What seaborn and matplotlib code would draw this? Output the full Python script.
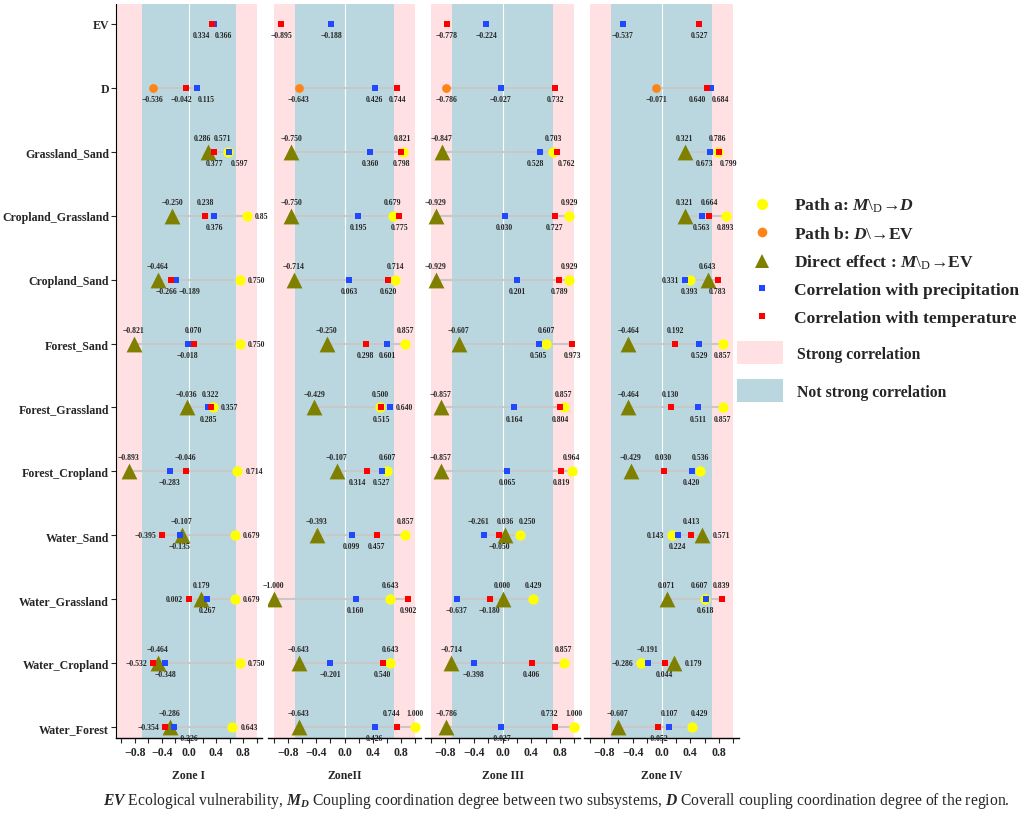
import numpy as np
import pandas as pd
import matplotlib.pyplot as plt
import seaborn as sns
from matplotlib.lines import Line2D
from matplotlib.patches import Patch

nan = np.nan

# rows, top to bottom
rows = ['EV', 'D', 'Grassland_Sand', 'Cropland_Grassland', 'Cropland_Sand', 'Forest_Sand',
        'Forest_Grassland', 'Forest_Cropland', 'Water_Sand', 'Water_Grassland',
        'Water_Cropland', 'Water_Forest']
zones = ['Zone I', 'ZoneII', 'Zone III', 'Zone IV']

# Path b (D -> EV), only in row D
path_b = [-0.536, -0.643, -0.786, -0.071]

# Zone I
path_a_1 = [nan, nan, 0.571, 0.857, 0.750, 0.750, 0.357, 0.714, 0.679, 0.679, 0.750, 0.643]
direct_1 = [nan, nan, 0.286, -0.250, -0.464, -0.821, -0.036, -0.893, -0.107, 0.179, -0.464, -0.286]
precip_1 = [0.366, 0.115, 0.597, 0.376, -0.189, -0.018, 0.285, -0.283, -0.135, 0.267, -0.348, -0.226]
temp_1 = [0.334, -0.042, 0.377, 0.238, -0.266, 0.070, 0.322, -0.046, -0.395, 0.002, -0.532, -0.354]

# Zone II
path_a_2 = [nan, nan, 0.821, 0.679, 0.714, 0.857, 0.500, 0.607, 0.857, 0.643, 0.643, 1.000]
direct_2 = [nan, nan, -0.750, -0.750, -0.714, -0.250, -0.429, -0.107, -0.393, -1.000, -0.643, -0.643]
precip_2 = [-0.188, 0.426, 0.360, 0.195, 0.063, 0.601, 0.640, 0.527, 0.099, 0.160, -0.201, 0.426]
temp_2 = [-0.895, 0.744, 0.798, 0.775, 0.620, 0.298, 0.515, 0.314, 0.457, 0.902, 0.540, 0.744]

# Zone III
path_a_3 = [nan, nan, 0.703, 0.929, 0.929, 0.607, 0.857, 0.964, 0.250, 0.429, 0.857, 1.000]
direct_3 = [nan, nan, -0.847, -0.929, -0.929, -0.607, -0.857, -0.857, 0.036, 0.000, -0.714, -0.786]
precip_3 = [-0.224, -0.027, 0.528, 0.030, 0.201, 0.505, 0.164, 0.065, -0.261, -0.637, -0.398, -0.027]
temp_3 = [-0.778, 0.732, 0.762, 0.727, 0.789, 0.973, 0.804, 0.819, -0.050, -0.180, 0.406, 0.732]

# Zone IV
path_a_4 = [nan, nan, 0.786, 0.893, 0.393, 0.857, 0.857, 0.536, 0.143, 0.607, -0.286, 0.429]
direct_4 = [nan, nan, 0.321, 0.321, 0.643, -0.464, -0.464, -0.429, 0.571, 0.071, 0.179, -0.607]
precip_4 = [-0.537, 0.684, 0.673, 0.563, 0.331, 0.529, 0.511, 0.420, 0.224, 0.618, -0.191, 0.107]
temp_4 = [0.527, 0.640, 0.799, 0.664, 0.783, 0.192, 0.130, 0.030, 0.413, 0.839, 0.044, -0.052]

# label placement per row, order: path_a, path_b, direct, precip, temp
# a above, b below, l left, r right, z above-left, e above-right,
# q / w below-left / below-right, x small below-left, R below starting at marker
lay_1 = ['...wq', '.b.wx', 'z.zwb', 'r.aba', 'r.aRx', 'r.aba', 'r.aba', 'r.aba', 'r.abl', 'r.abl', 'r.abl', 'r.aRl']
lay_2 = ['...bb', '.b.bb', 'a.abb', 'a.abb', 'a.abb', 'a.abb', 'a.arb', 'a.abq', 'a.abb', 'a.abb', 'a.abb', 'a.abz']
lay_3 = ['...bb', '.b.bb', 'a.axw', 'a.abb', 'a.abb', 'a.abb', 'a.abb', 'a.abb', 'e.azb', 'a.abb', 'a.abb', 'a.abz']
lay_4 = ['...bb', '.b.wq', 'a.axw', 'b.aba', 'b.alb', 'b.aba', 'b.aba', 'a.aba', 'l.rba', 'z.aba', 'l.rab', 'e.aab']

zone_data = [
    (path_a_1, direct_1, precip_1, temp_1, lay_1),
    (path_a_2, direct_2, precip_2, temp_2, lay_2),
    (path_a_3, direct_3, precip_3, temp_3, lay_3),
    (path_a_4, direct_4, precip_4, temp_4, lay_4),
]

PINK = '#FFE1E3'
LBLUE = '#BAD7DF'
# name, marker, color, size, zorder, half size (pt)
series = [
    ('path_a', 'o', '#FFFF00', 55, 3, 3.8),
    ('path_b', 'o', '#FF8418', 40, 3, 3.2),
    ('direct', '^', '#7F7F00', 130, 4, 5.5),
    ('precip', 's', '#1F48FF', 24, 5, 2.4),
    ('temp', 's', '#FF0000', 24, 6, 2.4),
]

sns.set_style('white')
plt.rcParams['font.family'] = ['Liberation Serif', 'DejaVu Serif']
plt.rcParams['mathtext.fontset'] = 'custom'
plt.rcParams['mathtext.rm'] = 'Liberation Serif'
plt.rcParams['mathtext.it'] = 'Liberation Serif:italic:bold'
plt.rcParams['mathtext.bf'] = 'Liberation Serif:bold'

W, H = 1024, 820
fig = plt.figure(figsize=(W / 100, H / 100), dpi=100)

lefts = [116, 268, 425, 584]
rights = [262, 421, 580, 739]
top_px, bot_px = 5, 739
XL = 1.08


def fmt(v):
    return f'{v:.3f}'.replace('-', '\u2212')


def placement(code, half):
    if code == 'a':
        return (0, 10), 'center'
    if code == 'b':
        return (0, -8), 'center'
    if code == 'r':
        return (half + 2, 0), 'left'
    if code == 'l':
        return (-half - 2, 0), 'right'
    if code == 'z':
        return (-4, 10), 'center'
    if code == 'e':
        return (5, 10), 'center'
    if code == 'w':
        return (7, -8), 'center'
    if code == 'q':
        return (-7, -8), 'center'
    if code == 'x':
        return (-3.5, -8), 'center'
    if code == 'R':
        return (2, -8), 'left'
    return (0, -8), 'center'


for k, (pa, di, pr, te, lay) in enumerate(zone_data):
    ax = fig.add_axes([lefts[k] / W, 1 - bot_px / H, (rights[k] - lefts[k]) / W, (bot_px - top_px) / H])
    df = pd.DataFrame({'row': np.arange(len(rows)), 'path_a': pa, 'direct': di,
                       'precip': pr, 'temp': te})
    df['path_b'] = nan
    df.loc[1, 'path_b'] = path_b[k]

    ax.set_xlim(-XL, XL)
    ax.set_ylim(11.17, -0.31)
    ax.axvspan(-XL if k == 0 else -1.0, -0.7, color=PINK, lw=0, zorder=0)
    ax.axvspan(0.7, 1.0, color=PINK, lw=0, zorder=0)
    ax.axvspan(-0.7, 0.7, color=LBLUE, lw=0, zorder=0)
    ax.axvline(0, color='white', lw=0.8, zorder=1)

    # connecting lines for rows with path values
    vals = df[['path_a', 'path_b', 'direct', 'precip', 'temp']]
    for i in range(len(rows)):
        if df.loc[i, ['path_a', 'path_b']].notna().any():
            ax.hlines(i, vals.loc[i].min(), vals.loc[i].max(), color='#C8C8C8', lw=1.5, zorder=2)

    for j, (name, mk, col, s, z, half) in enumerate(series):
        sub = df[['row', name]].dropna()
        sns.scatterplot(data=sub, x=name, y='row', marker=mk, color=col, s=s,
                        linewidth=0, zorder=z, ax=ax, legend=False)
        for _, r in sub.iterrows():
            off, ha = placement(lay[int(r['row'])][j], half)
            ax.annotate(fmt(r[name]), (r[name], r['row']), xytext=off, textcoords='offset points',
                        ha=ha, va='center', fontsize=5.6, fontweight='bold', zorder=7)

    for sp in ['top', 'right']:
        ax.spines[sp].set_visible(False)
    ax.spines['bottom'].set_color('black')
    ax.spines['bottom'].set_linewidth(1.0)
    ax.set_xticks([-0.8, -0.4, 0.0, 0.4, 0.8])
    ax.set_xticklabels(['\u22120.8', '\u22120.4', '0.0', '0.4', '0.8'], fontsize=8.5, fontweight='bold')
    ax.set_xticks([-1.0, -0.6, -0.2, 0.2, 0.6, 1.0], minor=True)
    ax.tick_params(axis='x', which='both', direction='out', bottom=True, length=3.5, width=0.8, pad=2)
    ax.set_xlabel(zones[k], fontsize=8.5, fontweight='bold', labelpad=8)
    ax.set_yticks(range(len(rows)))
    if k == 0:
        ax.set_yticklabels(rows, fontsize=8.6, fontweight='bold')
        ax.spines['left'].set_color('black')
        ax.tick_params(axis='y', direction='out', left=True, length=3.5, width=0.8, pad=1.5)
    else:
        ax.spines['left'].set_visible(False)
        ax.tick_params(axis='y', left=False, labelleft=False)
    ax.set_ylabel('')
    ax.grid(False)

# legends
mk_handles = [
    Line2D([], [], ls='', marker='o', color=series[0][2], markersize=8, markeredgewidth=0),
    Line2D([], [], ls='', marker='o', color=series[1][2], markersize=7, markeredgewidth=0),
    Line2D([], [], ls='', marker='^', color=series[2][2], markersize=10.5, markeredgewidth=0),
    Line2D([], [], ls='', marker='s', color=series[3][2], markersize=5, markeredgewidth=0),
    Line2D([], [], ls='', marker='s', color=series[4][2], markersize=5, markeredgewidth=0),
]
mk_labels = [r'Path a: $M\backslash_{\mathrm{D}}$' + '\u2192' + r'$D$',
             r'Path b: $D\backslash$' + '\u2192EV',
             r'Direct effect : $M\backslash_{\mathrm{D}}$' + '\u2192EV',
             'Correlation with precipitation',
             'Correlation with temperature']
leg1 = fig.legend(mk_handles, mk_labels, loc='upper left', bbox_to_anchor=(747 / W, 1 - 197 / H),
                  frameon=False, prop={'weight': 'bold', 'size': 12.6}, handlelength=1.7,
                  handletextpad=1.0, labelspacing=0.63, borderpad=0, borderaxespad=0)
patch_handles = [Patch(facecolor=PINK, edgecolor='none'), Patch(facecolor=LBLUE, edgecolor='none')]
leg2 = fig.legend(patch_handles, ['Strong correlation', 'Not strong correlation'], loc='upper left',
                  bbox_to_anchor=(737 / W, 1 - 342 / H), frameon=False,
                  prop={'weight': 'bold', 'size': 11.3}, handlelength=2.9, handleheight=1.92,
                  handletextpad=0.9, labelspacing=0.92, borderpad=0, borderaxespad=0)

fig.text(556 / W, 1 - 801 / H,
         r'$EV$ Ecological vulnerability, $M_D$ Coupling coordination degree between two subsystems, '
         r'$D$ Coverall coupling coordination degree of the region.',
         ha='center', va='center', fontsize=11.25)

fig.savefig('out.png', dpi=100)
